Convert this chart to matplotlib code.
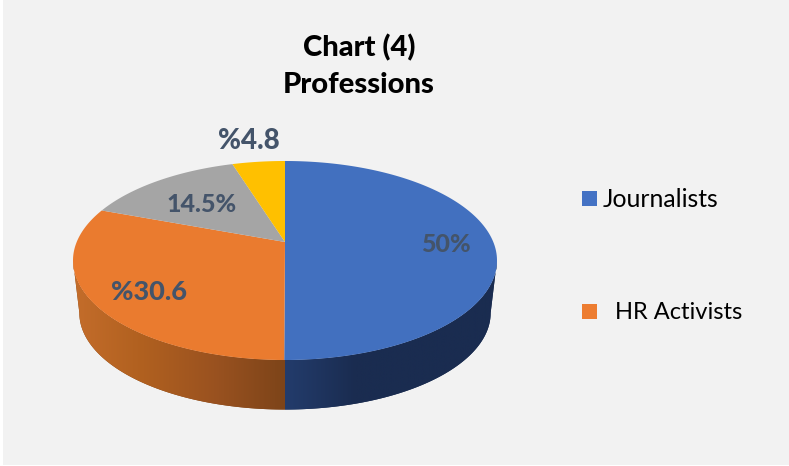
import numpy as np
from matplotlib import pyplot as plt
from matplotlib.patches import Polygon, Rectangle
from matplotlib.colors import LinearSegmentedColormap

plt.rcParams['font.family'] = ['Lato', 'DejaVu Sans']

values = [50, 30.6, 14.5, 4.8]
colors = ['#4270BF', '#EA7B2F', '#A5A5A5', '#FFC000']
value_labels = ['50%', '%30.6', '14.5%', '%4.8']
label_xy = [(446, 245), (149, 292), (202, 204), (249, 141)]
label_size = [18, 19.5, 18, 20]
legend_names = ['Journalists', '  HR Activists']
legend_colors = ['#4472C4', '#ED7D31']
legend_size = [17.8, 17]

fig = plt.figure(figsize=(7.89, 4.66), dpi=100, facecolor='white')
ax = fig.add_axes([0, 0, 1, 1], xlim=(0, 789), ylim=(466, 0))
ax.axis('off')
ax.add_patch(Rectangle((3, 0), 786, 465, color='#F2F2F2', lw=0))

# fake perspective of the excel 3d pie: disc -> picture pixels
cx, r = 285, 208.3
pa, pb, pc = -51.06, 242, 0.186
drop, shrink = 52.5, 0.97


def top_rim(ang):
    # ang is clockwise from 12 o'clock, in radians
    u, v = np.sin(ang), np.cos(ang)
    d = 1 + pc * v
    return cx + r * u / d, (pa * v + pb) / d


def low_rim(ang):
    x, y = top_rim(ang)
    return cx + (x - cx) * shrink, 260.5 + drop + (y - 260.5) * shrink


def side(a0, a1, cols, zorder=1):
    ang = np.linspace(a0, a1, 200)
    xt, yt = top_rim(ang)
    xb, yb = low_rim(ang)
    pts = np.vstack([np.c_[xt, yt], np.c_[xb, yb][::-1]])
    poly = Polygon(pts, closed=True, fc=cols[-1], ec='none', zorder=zorder)
    ax.add_patch(poly)
    cm = LinearSegmentedColormap.from_list('s', cols)
    x0, x1 = pts[:, 0].min(), pts[:, 0].max()
    im = ax.imshow(np.linspace(0, 1, 256)[None, :], cmap=cm, aspect='auto',
                   extent=(x0, x1, 420, 250), zorder=zorder + 0.1)
    im.set_clip_path(poly)


fr = np.cumsum([0] + values) / sum(values) * 2 * np.pi

# walls seen from the front, from the widest point of the rim to 6 o'clock
side(np.pi / 2 + pc, np.pi, ['#233C6C', '#1A2C50', '#1A2C50', '#1A2C50'])
side(np.pi, 3 * np.pi / 2 - pc, ['#C46D2B', '#B0601F', '#9A5220', '#7D4419'])
ax.set_xlim(0, 789)
ax.set_ylim(466, 0)

for i in range(len(values)):
    ang = np.linspace(fr[i], fr[i + 1], 150)
    xs, ys = top_rim(ang)
    pts = np.vstack([[cx, pb], np.c_[xs, ys]])
    ax.add_patch(Polygon(pts, closed=True, fc=colors[i], ec='none', zorder=3))

for s, (x, y), sz in zip(value_labels, label_xy, label_size):
    ax.text(x, y, s, color='#44546A', fontsize=sz, fontweight='black',
            ha='center', va='center', zorder=4)

ax.text(359, 66, 'Chart (4)\nProfessions', fontsize=21, fontweight='black', color='black',
        ha='center', va='center', linespacing=1.52)

for i, name in enumerate(legend_names):
    y = 198 + i * 113
    ax.add_patch(Rectangle((582, y - 7.5), 15, 15, fc=legend_colors[i], ec='none'))
    ax.text(603, y + 1.5, name, fontsize=legend_size[i], color='black', ha='left', va='center')

fig.savefig('out.png', dpi=100)
